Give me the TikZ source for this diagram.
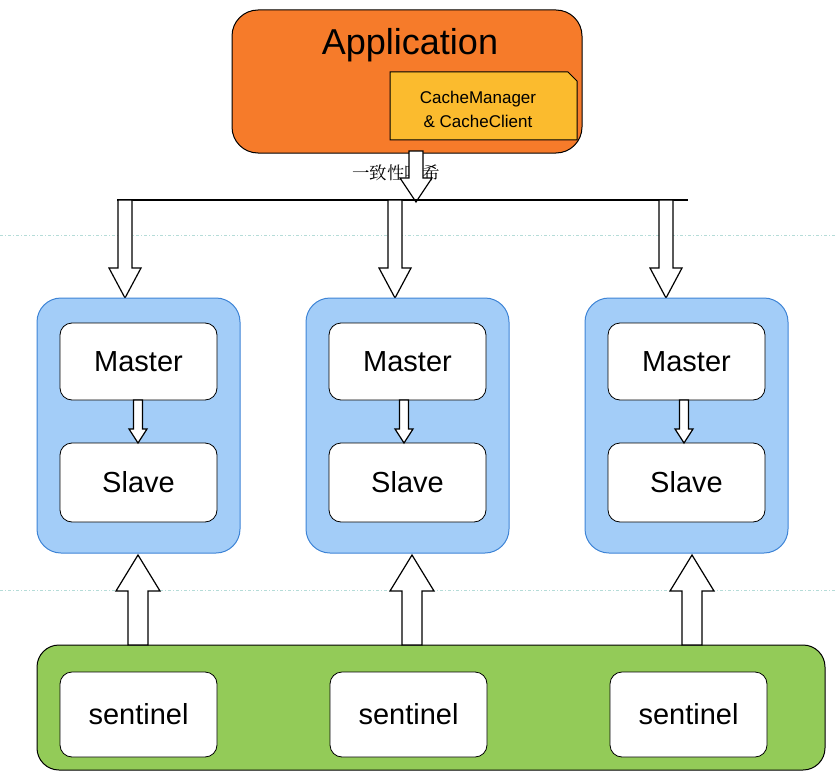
\documentclass[tikz,border=0pt]{standalone}
\usepackage{fontspec}
\setmainfont{Liberation Sans}
\newfontfamily\cjk{Noto Serif CJK SC}
\definecolor{appor}{HTML}{F67B2A}
\definecolor{cacheyel}{HTML}{FBBB2E}
\definecolor{grpblue}{HTML}{A3CDF8}
\definecolor{grpedge}{HTML}{3E84D6}
\definecolor{sentgreen}{HTML}{93CB58}
\definecolor{dashteal}{HTML}{B5DCD8}
\newcommand{\hollowarrow}[6]{% x, ystart, yend(tip), shaft half, head half, head len
  \draw[fill=white,line width=1.2pt,line join=miter]
    (#1-#4,#2) -- (#1-#4,#3-#6) -- (#1-#5,#3-#6) -- (#1,#3) -- (#1+#5,#3-#6) -- (#1+#4,#3-#6) -- (#1+#4,#2) -- cycle;}
\begin{document}
\begin{tikzpicture}[x=1pt,y=-1pt,
  inner/.style={draw=black,line width=0.8pt,fill=white,rounded corners=12pt},
  grp/.style={draw=grpedge,line width=1pt,fill=grpblue,rounded corners=24pt},
  lbl/.style={font=\fontsize{29}{32}\selectfont}]
\useasboundingbox (0,0) rectangle (835,781);
\draw[dashteal,line width=1pt,dash dot] (0,235) -- (835,235);
\draw[dashteal,line width=1pt,dash dot] (0,590) -- (835,590);
% application
\draw[line width=1pt,fill=appor,rounded corners=26pt] (232,10) rectangle (582,153);
\node[font=\fontsize{36}{40}\selectfont] (app) at (410,45) {Application};
\draw[line width=1pt,fill=cacheyel] (390,72) -- (568,72) -- (577,81) -- (577,140) -- (390,140) -- cycle;
\node[align=center,font=\fontsize{17}{24}\selectfont] (cache) at (478,109) {CacheManager\\\& CacheClient};
\node[font=\cjk\fontsize{17.5}{19}\selectfont] (hash) at (396,173) {一致性哈希};
\hollowarrow{416}{151}{202}{7}{16}{24}
% distribution line
\draw[line width=1.3pt] (117,200) -- (688,200);
\hollowarrow{125}{200}{298}{7}{16}{30}
\hollowarrow{395}{200}{298}{7}{16}{30}
\hollowarrow{666}{200}{298}{7}{16}{30}
% groups
\foreach \gx/\n in {37/a,306/b,585/c}{
  \draw[grp] (\gx,298) rectangle ++(203,255);
  \node[inner,minimum width=157pt,minimum height=77pt,lbl] (m\n) at (\gx+101.5,361.5) {Master};
  \node[inner,minimum width=157pt,minimum height=79pt,lbl] (s\n) at (\gx+101.5,482.5) {Slave};
}
\hollowarrow{138}{400}{443}{4.5}{9}{14}
\hollowarrow{404}{400}{443}{4.5}{9}{14}
\hollowarrow{684}{400}{443}{4.5}{9}{14}
% sentinel bar
\draw[line width=1pt,fill=sentgreen,rounded corners=22pt] (37,645) rectangle (825,770);
\foreach \sx/\n in {60/a,330/b,610/c}{
  \node[inner,minimum width=157pt,minimum height=85pt,lbl] (t\n) at (\sx+78.5,714.5) {sentinel};
}
\hollowarrow{138}{645}{555}{-10}{-22}{-36}
\hollowarrow{412}{645}{555}{-10}{-22}{-36}
\hollowarrow{692}{645}{555}{-10}{-22}{-36}
\end{tikzpicture}
\end{document}
